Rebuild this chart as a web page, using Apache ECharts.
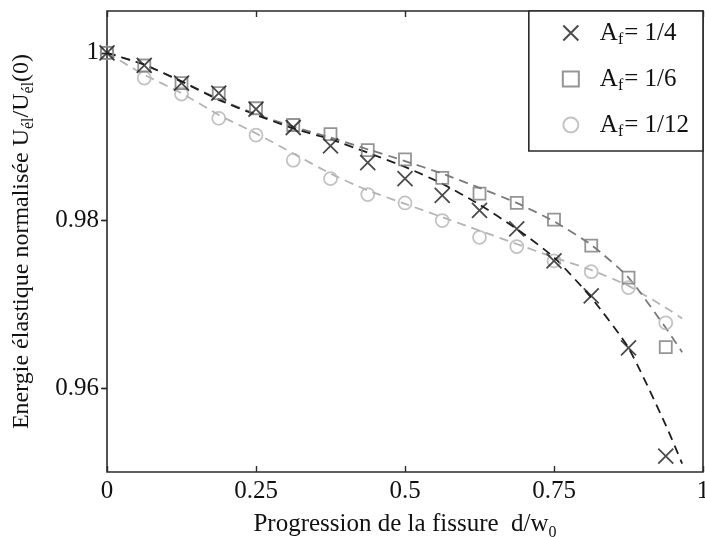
<!DOCTYPE html>
<html>
<head>
<meta charset="utf-8">
<script src="https://cdn.jsdelivr.net/npm/echarts@6/dist/echarts.min.js"></script>
<style>html,body{margin:0;padding:0;background:#fff}#c{width:705px;height:537px}</style>
</head>
<body>
<div id="c"></div>
<script>
// crack progression d/w0 (data points)
var xs = [0, 0.0625, 0.125, 0.1875, 0.25, 0.3125, 0.375, 0.4375, 0.5, 0.5625, 0.625, 0.6875, 0.75, 0.8125, 0.875, 0.9375];
// normalised elastic energy, measured points
var af4  = [1.0000, 0.9985, 0.9964, 0.9952, 0.9933, 0.9911, 0.9889, 0.9869, 0.9850, 0.9830, 0.9812, 0.9790, 0.9752, 0.9710, 0.9648, 0.9519];
var af6  = [1.0000, 0.9985, 0.9964, 0.9952, 0.9934, 0.9914, 0.9903, 0.9884, 0.9873, 0.9851, 0.9832, 0.9821, 0.9801, 0.9770, 0.9732, 0.9649];
var af12 = [1.0000, 0.9970, 0.9951, 0.9922, 0.9902, 0.9872, 0.9850, 0.9831, 0.9821, 0.9800, 0.9780, 0.9769, 0.9752, 0.9739, 0.9720, 0.9678];
// fitted dashed curves
var fitX    = [0, 0.0625, 0.125, 0.1875, 0.25, 0.3125, 0.375, 0.4375, 0.5, 0.5625, 0.625, 0.6875, 0.75, 0.8125, 0.875, 0.9375, 0.965];
var fit4    = [1.0000, 0.9986, 0.9966, 0.9944, 0.9926, 0.9910, 0.9897, 0.9881, 0.9864, 0.9844, 0.9819, 0.9790, 0.9756, 0.9708, 0.9648, 0.9556, 0.9510];
var fit6    = [1.0000, 0.9986, 0.9966, 0.9945, 0.9927, 0.9912, 0.9899, 0.9885, 0.9871, 0.9856, 0.9839, 0.9821, 0.9799, 0.9771, 0.9732, 0.9672, 0.9643];
var fit12   = [1.0000, 0.9974, 0.9952, 0.9926, 0.9904, 0.9880, 0.9856, 0.9836, 0.9820, 0.9804, 0.9788, 0.9772, 0.9756, 0.9741, 0.9722, 0.9696, 0.9683];
// ticks
var xTicks = [0, 0.25, 0.5, 0.75, 1];
var yTicks = [0.96, 0.98, 1];
var names = ['Af4', 'Af6', 'Af12'];
var legendText = {Af4: '1/4', Af6: '1/6', Af12: '1/12'};

function pairs(x, y) { return x.map(function (v, i) { return [v, y[i]]; }); }

var FONT = '"Liberation Serif","DejaVu Serif",serif';
var C4 = '#1e1e1e', C6 = '#7a7a7a', C12 = '#b4b4b4';

var chart = echarts.init(document.getElementById('c'), null, {renderer: 'canvas'});
function fitLine(data, color) {
  return {type: 'line', data: data, showSymbol: false, smooth: 0.2, silent: true,
    lineStyle: {color: color, width: 1.8, type: [9, 6]}, z: 2};
}
chart.setOption({
  animation: false,
  backgroundColor: '#fff',
  textStyle: {fontFamily: FONT},
  grid: {left: 107, right: 2, top: 11, bottom: 65, outerBoundsMode: 'none', containLabel: false,
    show: true, borderColor: '#2a2a2a', borderWidth: 1.6, backgroundColor: 'transparent'},
  legend: {
    data: names, orient: 'vertical', right: 2, top: 11,
    backgroundColor: '#fff', borderColor: '#2a2a2a', borderWidth: 1.6,
    padding: [7, 14, 11, 33], itemGap: 16, itemWidth: 16, itemHeight: 15,
    formatter: function (n) { return '{p|A}{s|f}{a|= ' + legendText[n] + '}'; },
    textStyle: {fontFamily: FONT, color: '#111', rich: {
      p: {fontSize: 25, fontFamily: FONT, lineHeight: 28, color: '#111', padding: [0, 0, 0, 16]},
      a: {fontSize: 25, fontFamily: FONT, lineHeight: 28, color: '#111'},
      s: {fontSize: 16, fontFamily: FONT, lineHeight: 28, color: '#111', padding: [14, 1, 0, 0]}
    }}
  },
  xAxis: [{
    type: 'value', min: 0, max: 1, interval: 0.25, position: 'bottom',
    name: '{t|Progression de la fissure  d/w}{s|0}', nameLocation: 'middle', nameGap: 24,
    nameTextStyle: {rich: {
      t: {fontSize: 25, fontFamily: FONT, color: '#111', lineHeight: 30},
      s: {fontSize: 16, fontFamily: FONT, color: '#111', lineHeight: 30, padding: [16, 0, 0, 0]}
    }},
    axisLine: {show: false}, splitLine: {show: false},
    axisTick: {inside: true, length: 6, lineStyle: {color: '#2a2a2a', width: 1.4}},
    axisLabel: {fontSize: 25, fontFamily: FONT, color: '#111', margin: 7,
      customValues: xTicks, formatter: function (v) { return String(+v.toFixed(2)); }}
  }, {
    type: 'value', min: 0, max: 1, interval: 0.25, position: 'top',
    axisLine: {show: false}, splitLine: {show: false}, axisLabel: {show: false},
    axisTick: {inside: true, length: 6, lineStyle: {color: '#2a2a2a', width: 1.4}}
  }],
  yAxis: [{
    type: 'value', min: 0.95, max: 1.005, position: 'left',
    name: '{t|Energie élastique normalisée U}{s|él}{t|/U}{s|él}{t|(0)}', nameLocation: 'middle', nameGap: 70, nameRotate: 90,
    nameMoveOverlap: false,
    nameTextStyle: {rich: {
      t: {fontSize: 24, fontFamily: FONT, color: '#111', lineHeight: 30},
      s: {fontSize: 16, fontFamily: FONT, color: '#111', lineHeight: 30, padding: [14, 0, 0, 0]}
    }},
    axisLine: {show: false}, splitLine: {show: false},
    axisTick: {inside: false, length: 5, customValues: yTicks, lineStyle: {color: '#2a2a2a', width: 1.4}},
    axisLabel: {fontSize: 25, fontFamily: FONT, color: '#111', margin: 8, customValues: yTicks,
      formatter: function (v) { return String(+v.toFixed(2)); }}
  }, {
    type: 'value', min: 0.95, max: 1.005, position: 'right',
    axisLine: {show: false}, splitLine: {show: false}, axisLabel: {show: false},
    axisTick: {inside: true, length: 6, customValues: yTicks, lineStyle: {color: '#2a2a2a', width: 1.4}}
  }],
  series: [
    fitLine(pairs(fitX, fit12), C12),
    fitLine(pairs(fitX, fit6), C6),
    fitLine(pairs(fitX, fit4), C4),
    {name: 'Af12', type: 'scatter', data: pairs(xs, af12), symbol: 'circle', symbolSize: 13, z: 3,
      itemStyle: {color: 'rgba(255,255,255,0)', borderColor: C12, borderWidth: 1.8}},
    {name: 'Af6', type: 'scatter', data: pairs(xs, af6), symbol: 'rect', symbolSize: 12, z: 3,
      itemStyle: {color: 'rgba(255,255,255,0)', borderColor: C6, borderWidth: 1.8}},
    {name: 'Af4', type: 'scatter', data: pairs(xs, af4), symbol: 'path://M0,0L10,10M10,0L0,10', symbolSize: 15, z: 4,
      itemStyle: {color: 'rgba(255,255,255,0)', borderColor: C4, borderWidth: 1.8}}
  ]
});
</script>
</body>
</html>
